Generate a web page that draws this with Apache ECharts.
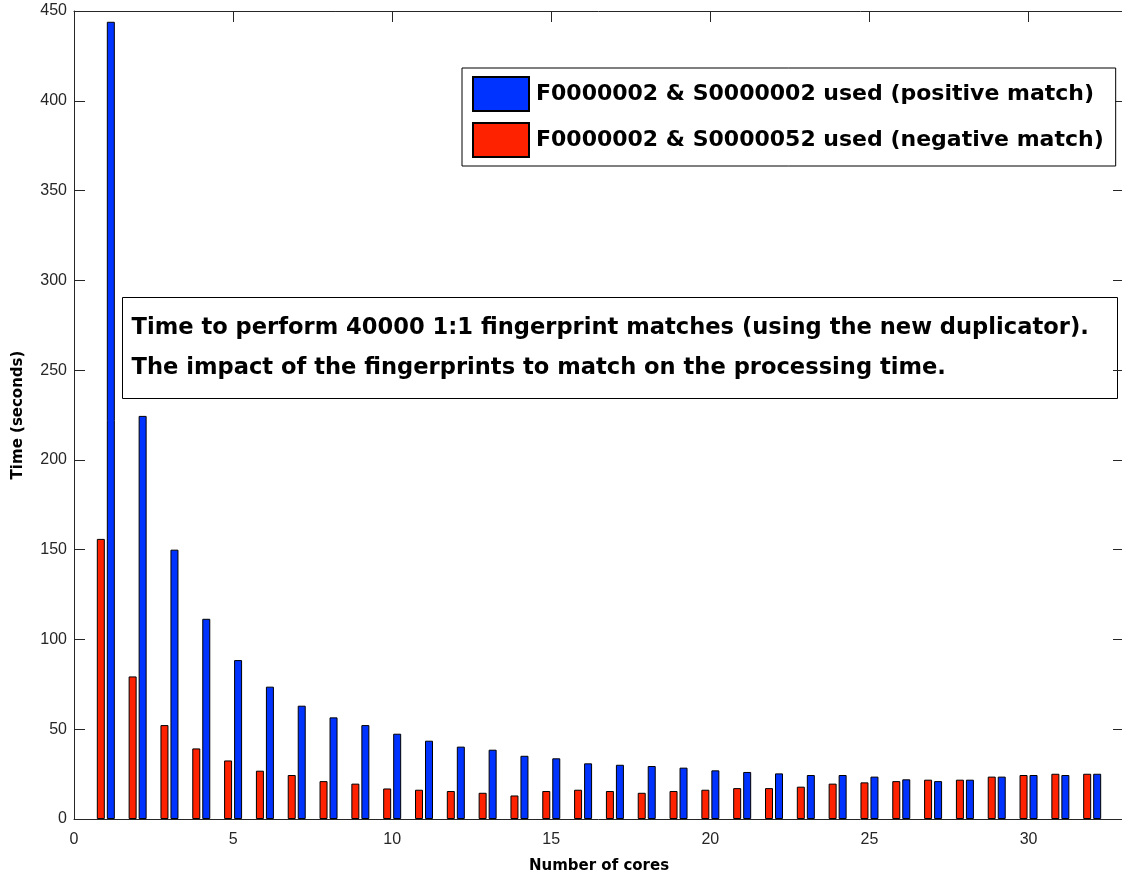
<!DOCTYPE html>
<html>
<head>
<meta charset="utf-8">
<script src="https://cdn.jsdelivr.net/npm/echarts@6/dist/echarts.min.js"></script>
<style>
html,body{margin:0;padding:0;background:#fff;}
#chart{width:1122px;height:875px;}
</style>
</head>
<body>
<div id="chart"></div>
<script>
const cores = [1,2,3,4,5,6,7,8,9,10,11,12,13,14,15,16,17,18,19,20,21,22,23,24,25,26,27,28,29,30,31,32];
const positiveMatch = [444,224.5,150,111.5,88.5,73.7,63.1,56.6,52.3,47.5,43.6,40.3,38.6,35.2,33.8,31,30.2,29.5,28.6,27.1,26.2,25.4,24.5,24.5,23.6,22.1,21.1,21.9,23.6,24.5,24.5,25.2];
const negativeMatch = [156,79.4,52.3,39.3,32.6,26.9,24.5,21.1,19.7,17,16.3,15.6,14.6,13.1,15.6,16.3,15.6,14.6,15.6,16.3,17.2,17.2,18,19.7,20.4,21.1,21.9,21.9,23.6,24.5,25.2,25.2];
const xTicks = [0,5,10,15,20,25,30];
const yTicks = [0,50,100,150,200,250,300,350,400,450];
const seriesNames = ['F0000002 & S0000002 used (positive match)','F0000002 & S0000052 used (negative match)'];
const boxLines = ['Time to perform 40000 1:1 fingerprint matches (using the new duplicator).','The impact of the fingerprints to match on the processing time.'];

const chart = echarts.init(document.getElementById('chart'), null, {renderer:'canvas'});
const axisColor = '#262626';
const font = 'Liberation Sans, Arial, Helvetica, sans-serif';
const boldFont = 'DejaVu Sans, Verdana, sans-serif';
const common = {
  axisLine:{show:true, onZero:false, lineStyle:{color:axisColor, width:1}},
  axisTick:{show:true, inside:true, length:11, lineStyle:{color:axisColor, width:1}},
  splitLine:{show:false}
};
chart.setOption({
  animation:false,
  backgroundColor:'#fff',
  grid:{left:74, top:11, width:1050, height:808, containLabel:false, outerBoundsMode:'none'},
  legend:{
    data:[seriesNames[0], seriesNames[1]],
    orient:'vertical', left:462, top:68,
    padding:[8,12,8,10], itemGap:10, itemWidth:56, itemHeight:34,
    borderColor:'#000', borderWidth:1, backgroundColor:'#fff',
    icon:'rect',
    textStyle:{fontFamily:boldFont, fontWeight:'bold', fontSize:22, color:'#000', padding:[0,0,0,2]}
  },
  xAxis:[
    Object.assign({}, common, {type:'value', min:0, max:33, interval:5, position:'bottom',
      name:'Number of cores', nameLocation:'middle', nameGap:40,
      nameTextStyle:{fontFamily:boldFont, fontWeight:'bold', fontSize:15, color:'#000'},
      axisTick:{show:false},
      axisLabel:{show:true, margin:13, fontFamily:font, fontSize:16, color:axisColor,
        customValues:xTicks}}),
    Object.assign({}, common, {type:'value', min:0, max:33, interval:5, position:'top',
      axisLabel:{show:false}})
  ],
  yAxis:[
    Object.assign({}, common, {type:'value', min:0, max:450, interval:50, position:'left',
      name:'Time (seconds)', nameLocation:'middle', nameGap:48,
      nameTextStyle:{fontFamily:boldFont, fontWeight:'bold', fontSize:15, color:'#000'},
      axisLabel:{show:true, margin:7, fontFamily:font, fontSize:16, color:axisColor,
        customValues:yTicks}}),
    Object.assign({}, common, {type:'value', min:0, max:450, interval:50, position:'right',
      axisLabel:{show:false}})
  ],
  series:[
    {name:seriesNames[1], type:'bar', xAxisIndex:0, yAxisIndex:0,
      barWidth:8, barGap:'25%',
      itemStyle:{color:'#ff2200', borderColor:'#000', borderWidth:1},
      data:cores.map((c,i)=>[c, negativeMatch[i]])},
    {name:seriesNames[0], type:'bar', xAxisIndex:0, yAxisIndex:0,
      barWidth:8, barGap:'25%',
      itemStyle:{color:'#0033ff', borderColor:'#000', borderWidth:1},
      data:cores.map((c,i)=>[c, positiveMatch[i]])}
  ],
  graphic:[
    {type:'group', left:122, top:297, children:[
      {type:'rect', shape:{x:0, y:0, width:995, height:101},
        style:{fill:'#fff', stroke:'#000', lineWidth:1}},
      {type:'text', x:9, y:31, style:{text:boxLines[0], font:'bold 22.6px '+boldFont, fill:'#000', textVerticalAlign:'middle'}},
      {type:'text', x:9, y:71, style:{text:boxLines[1], font:'bold 22.6px '+boldFont, fill:'#000', textVerticalAlign:'middle'}}
    ]}
  ]
});
</script>
</body>
</html>
